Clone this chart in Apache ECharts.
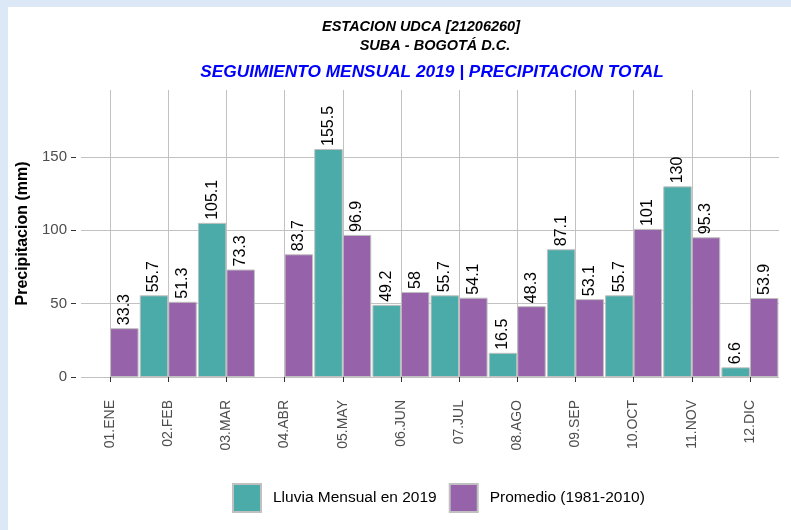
<!DOCTYPE html>
<html>
<head>
<meta charset="utf-8">
<script src="https://cdn.jsdelivr.net/npm/echarts@6/dist/echarts.min.js"></script>
<style>
  html, body { margin: 0; padding: 0; background: #fff; }
  #main { width: 791px; height: 530px; }
</style>
</head>
<body>
<div id="main"></div>
<script>
var chartDom = document.getElementById("main");
var myChart = echarts.init(chartDom);
var option;

// meses
const months = [
  "01.ENE", "02.FEB", "03.MAR", "04.ABR", "05.MAY", "06.JUN",
  "07.JUL", "08.AGO", "09.SEP", "10.OCT", "11.NOV", "12.DIC",
];
// lluvia mensual 2019 (ENE y ABR sin dato)
const lluvia2019 = [null, 55.7, 105.1, null, 155.5, 49.2, 55.7, 16.5, 87.1, 55.7, 130, 6.6];
// promedio 1981-2010
const promedio = [33.3, 51.3, 73.3, 83.7, 96.9, 58, 54.1, 48.3, 53.1, 101, 95.3, 53.9];

const gridColor = "#c2c2c2";
const font = "Liberation Sans, Arial, sans-serif";

const labelOption = {
  show: true,
  position: "top",
  distance: 3,
  rotate: 90,
  align: "left",
  verticalAlign: "middle",
  fontSize: 16,
  fontFamily: font,
  color: "#000",
  formatter: "{c}",
};

option = {
  animation: false,
  backgroundColor: "#fff",
  textStyle: { fontFamily: font },
  graphic: [
    { type: "rect", shape: { x: 0, y: 0, width: 791, height: 7 }, style: { fill: "#dde8f7" }, silent: true },
    { type: "rect", shape: { x: 0, y: 0, width: 8, height: 530 }, style: { fill: "#dde8f7" }, silent: true },
  ],
  title: [
    {
      text: "ESTACION UDCA [21206260]",
      left: 416,
      top: 14,
      textAlign: "center",
      textStyle: { fontSize: 14.5, fontStyle: "italic", fontWeight: "bold", color: "#000", fontFamily: font },
    },
    {
      text: "SUBA - BOGOTÁ D.C.",
      left: 430,
      top: 33,
      textAlign: "center",
      textStyle: { fontSize: 14.5, fontStyle: "italic", fontWeight: "bold", color: "#000", fontFamily: font },
    },
    {
      text: "SEGUIMIENTO MENSUAL 2019 | PRECIPITACION TOTAL",
      left: 427,
      top: 59,
      textAlign: "center",
      textStyle: { fontSize: 17.3, fontStyle: "italic", fontWeight: "bold", color: "#0000ff", fontFamily: font },
    },
  ],
  legend: {
    left: 232,
    top: 483,
    padding: 0,
    itemWidth: 28,
    itemHeight: 28,
    itemGap: 12,
    icon: "rect",
    textStyle: { fontSize: 15.5, color: "#000", padding: [0, 0, 0, 7] },
    data: ["Lluvia Mensual en 2019", "Promedio (1981-2010)"],
  },
  grid: {
    left: 81,
    right: 12,
    top: 90,
    bottom: 153,
    containLabel: false,
  },
  xAxis: {
    type: "category",
    data: months,
    offset: 13,
    axisLine: { show: false },
    axisTick: { show: true, length: 5, alignWithLabel: true, lineStyle: { color: "#333" } },
    axisLabel: { rotate: 90, fontSize: 14, color: "#4d4d4d", margin: 10, interval: 0 },
    splitLine: { show: true, alignWithLabel: true, lineStyle: { color: gridColor, width: 1 } },
  },
  yAxis: {
    type: "value",
    min: 0,
    max: 195.7,
    interval: 50,
    offset: 5,
    name: "Precipitacion (mm)",
    nameLocation: "middle",
    nameGap: 40,
    nameTextStyle: { fontSize: 16, fontWeight: "bold", color: "#000" },
    axisLine: { show: false },
    axisTick: { show: true, length: 5, lineStyle: { color: "#333" } },
    axisLabel: { fontSize: 15, color: "#4d4d4d", margin: 9, showMaxLabel: false },
    splitLine: {
      show: true,
      lineStyle: { color: [gridColor, gridColor, gridColor, gridColor, "transparent"], width: 1 },
    },
  },
  series: [
    {
      name: "Lluvia Mensual en 2019",
      type: "bar",
      barGap: 0,
      barCategoryGap: "2%",
      itemStyle: { color: "#4aaba8", borderColor: "#c0c0c0", borderWidth: 1 },
      label: labelOption,
      data: lluvia2019,
    },
    {
      name: "Promedio (1981-2010)",
      type: "bar",
      barGap: 0,
      barCategoryGap: "2%",
      itemStyle: { color: "#9662aa", borderColor: "#c0c0c0", borderWidth: 1 },
      label: labelOption,
      data: promedio,
    },
  ],
};

option && myChart.setOption(option);
</script>
</body>
</html>
